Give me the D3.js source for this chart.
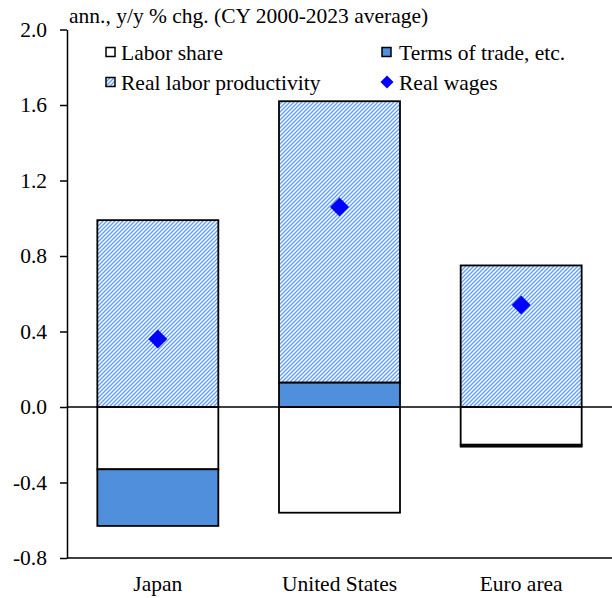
<!DOCTYPE html>
<html>
<head>
<meta charset="utf-8">
<script src="https://cdn.jsdelivr.net/npm/d3@7"></script>
<style>
  body { margin: 0; background: #fff; }
  text { font-family: "Liberation Serif", "Times New Roman", serif; fill: #000; }
</style>
</head>
<body>
<script>
var categories = ["Japan", "United States", "Euro area"];
var laborShare = [-0.33, -0.56, -0.20];
var termsOfTrade = [-0.30, 0.13, -0.01];
var productivity = [0.99, 1.49, 0.75];
var realWages = [0.36, 1.06, 0.54];
var yTicks = [-0.8, -0.4, 0.0, 0.4, 0.8, 1.2, 1.6, 2.0];
var keys = ["laborShare", "termsOfTrade", "productivity"];

var W = 612, H = 598;
var plotLeft = 67, plotRight = 612, plotTop = 29.5, plotBottom = 558;
var serif = "'Liberation Serif', 'Times New Roman', serif";
var fontSize = "21.5px";
var totColor = "#4f8fdb";

var rows = categories.map(function(c, i) {
  return {cat: c, laborShare: laborShare[i], termsOfTrade: termsOfTrade[i],
          productivity: productivity[i], wages: realWages[i]};
});

var svg = d3.select("body").append("svg")
    .attr("width", W)
    .attr("height", H);

// hatch for productivity
var defs = svg.append("defs");
var pat = defs.append("pattern")
    .attr("id", "hatch")
    .attr("patternUnits", "userSpaceOnUse")
    .attr("width", 4).attr("height", 4);
pat.append("rect").attr("width", 4).attr("height", 4).attr("fill", "#fff");
pat.append("path")
    .attr("d", "M-1,1 l2,-2 M0,4 l4,-4 M3,5 l2,-2")
    .attr("stroke", "#64a0e6")
    .attr("stroke-width", 1.4);

var fills = {laborShare: "#fff", termsOfTrade: totColor, productivity: "url(#hatch)"};

var x = d3.scaleBand()
    .domain(categories)
    .range([plotLeft, plotRight])
    .paddingInner(0.334)
    .paddingOuter(0.167);

var y = d3.scaleLinear()
    .domain([-0.8, 2.0])
    .range([plotBottom, plotTop]);

var series = d3.stack()
    .keys(keys)
    .offset(d3.stackOffsetDiverging)(rows);

svg.append("g").selectAll("g")
  .data(series)
  .join("g")
    .attr("fill", function(s) { return fills[s.key]; })
  .selectAll("rect")
  .data(function(s) { return s; })
  .join("rect")
    .attr("x", function(d) { return x(d.data.cat); })
    .attr("width", x.bandwidth())
    .attr("y", function(d) { return y(Math.max(d[0], d[1])); })
    .attr("height", function(d) { return Math.abs(y(d[0]) - y(d[1])); })
    .attr("stroke", "#000")
    .attr("stroke-width", 1.8);

// y axis
var yAxis = svg.append("g")
    .attr("transform", "translate(" + plotLeft + ",0)")
    .call(d3.axisLeft(y)
      .tickValues(yTicks)
      .tickSize(7)
      .tickSizeOuter(0)
      .tickPadding(13)
      .tickFormat(function(d) { return d.toFixed(1); }));
yAxis.select(".domain").attr("stroke", "#000").attr("stroke-width", 1.5);
yAxis.selectAll(".tick line").attr("stroke", "#000").attr("stroke-width", 1.5);
yAxis.attr("font-family", serif).attr("font-size", fontSize);
yAxis.selectAll(".tick text")
    .style("font-family", serif)
    .style("font-size", fontSize);

// zero line and bottom line
svg.append("line")
    .attr("x1", plotLeft).attr("x2", plotRight)
    .attr("y1", y(0)).attr("y2", y(0))
    .attr("stroke", "#000").attr("stroke-width", 1.5);
svg.append("line")
    .attr("x1", plotLeft).attr("x2", plotRight)
    .attr("y1", y(-0.8)).attr("y2", y(-0.8))
    .attr("stroke", "#000").attr("stroke-width", 1.5);

// category labels
svg.append("g").selectAll("text")
  .data(categories)
  .join("text")
    .attr("x", function(d) { return x(d) + x.bandwidth() / 2; })
    .attr("y", 591)
    .attr("text-anchor", "middle")
    .style("font-size", fontSize)
    .text(function(d) { return d; });

// real wages diamonds
var diamond = d3.symbol(d3.symbolSquare, 180);
svg.append("g").selectAll("path")
  .data(rows)
  .join("path")
    .attr("d", diamond)
    .attr("transform", function(d) {
      return "translate(" + (x(d.cat) + x.bandwidth() / 2) + "," + y(d.wages) + ") rotate(45)";
    })
    .attr("fill", "#0000ff");

// unit label
svg.append("text")
    .attr("x", 69)
    .attr("y", 23)
    .style("font-size", fontSize)
    .text("ann., y/y % chg. (CY 2000-2023 average)");

// legend
var legendItems = [
  {label: "Labor share", key: "laborShare", lx: 106, ly: 52},
  {label: "Terms of trade, etc.", key: "termsOfTrade", lx: 382, ly: 52},
  {label: "Real labor productivity", key: "productivity", lx: 106, ly: 82},
  {label: "Real wages", key: "wages", lx: 382, ly: 82}
];
var lg = svg.append("g").selectAll("g")
  .data(legendItems)
  .join("g")
    .attr("transform", function(d) { return "translate(" + d.lx + "," + d.ly + ")"; });
lg.filter(function(d) { return d.key !== "wages"; })
  .append("rect")
    .attr("x", 0).attr("y", -4.5)
    .attr("width", 9).attr("height", 9)
    .attr("fill", function(d) { return fills[d.key]; })
    .attr("stroke", "#000")
    .attr("stroke-width", 1.5);
lg.filter(function(d) { return d.key === "wages"; })
  .append("path")
    .attr("d", d3.symbol(d3.symbolSquare, 85))
    .attr("transform", "translate(5,0) rotate(45)")
    .attr("fill", "#0000ff");
lg.append("text")
    .attr("x", function(d) { return d.key === "wages" || d.key === "termsOfTrade" ? 17 : 15; })
    .attr("y", 7.5)
    .style("font-size", fontSize)
    .text(function(d) { return d.label; });
</script>
</body>
</html>
